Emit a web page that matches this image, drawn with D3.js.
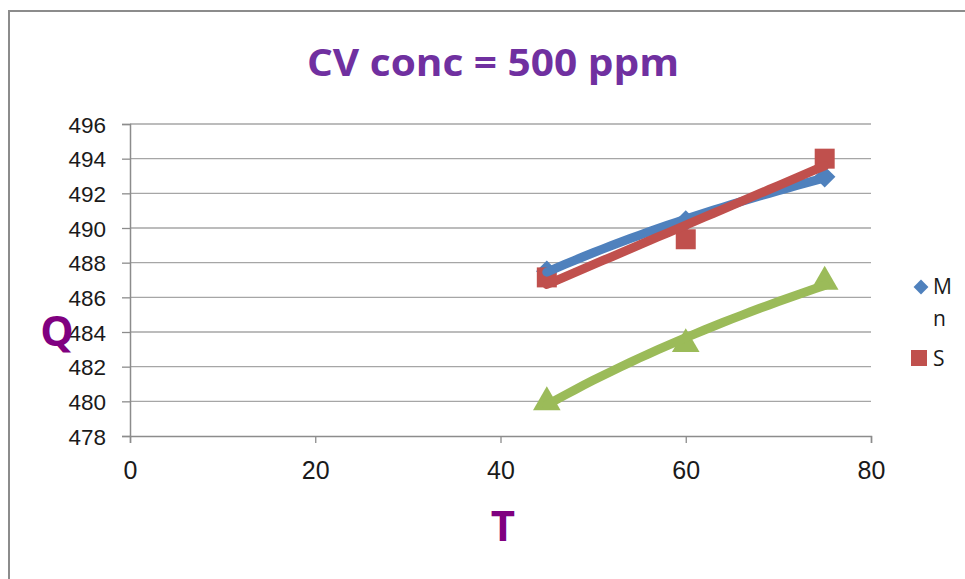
<!DOCTYPE html>
<html>
<head>
<meta charset="utf-8">
<script src="https://cdn.jsdelivr.net/npm/d3@7"></script>
<style>
  body { margin: 0; background: #fff; }
  svg { display: block; }
</style>
</head>
<body>
<svg width="965" height="579"></svg>
<script>
// data
var temps = [45, 60, 75];
var qMn = [487.5, 490.4, 492.95];
var qS = [487.15, 489.35, 494.0];
var qThird = [479.95, 483.3, 486.9];
var xTicks = [0, 20, 40, 60, 80];
var yTicks = [478, 480, 482, 484, 486, 488, 490, 492, 494, 496];

var svg = d3.select("svg"),
    margin = {top: 124, right: 94, bottom: 143, left: 130},
    width = 965 - margin.left - margin.right,
    height = 579 - margin.top - margin.bottom,
    g = svg.append("g").attr("transform", "translate(" + margin.left + "," + margin.top + ")");

var x = d3.scaleLinear().domain([0, 80]).range([0, width]),
    y = d3.scaleLinear().domain([478, 496]).range([height, 0]);

// chart frame
svg.append("path")
    .attr("d", "M9,579V11H965")
    .attr("fill", "none")
    .attr("stroke", "#8c8c8c")
    .attr("stroke-width", 2);

// title
svg.append("text")
    .attr("x", 493).attr("y", 76)
    .attr("text-anchor", "middle")
    .attr("fill", "#7030a0")
    .style("font", "bold 38px 'Liberation Sans Narrow', 'Open Sans', sans-serif")
    .attr("textLength", 372)
    .attr("lengthAdjust", "spacingAndGlyphs")
    .text("CV conc = 500 ppm");

// gridlines
g.selectAll(".grid")
  .data(yTicks.slice(1))
  .enter().append("line")
    .attr("class", "grid")
    .attr("x1", 0).attr("x2", width)
    .attr("y1", function(d) { return y(d); })
    .attr("y2", function(d) { return y(d); })
    .attr("stroke", "#a6a6a6")
    .attr("stroke-width", 1.3);

var xAxis = g.append("g")
    .attr("transform", "translate(0," + height + ")")
    .call(d3.axisBottom(x).tickValues(xTicks).tickSize(7).tickPadding(18));

var yAxis = g.append("g")
    .call(d3.axisLeft(y).tickValues(yTicks).tickSize(8).tickPadding(16));

[xAxis, yAxis].forEach(function(a) {
    a.select(".domain").attr("stroke", "#8c8c8c").attr("stroke-width", 1.5);
    a.selectAll(".tick line").attr("stroke", "#8c8c8c").attr("stroke-width", 1.3);
    a.selectAll(".tick text")
        .attr("fill", "#1a1a1a")
        .style("font-family", "'Liberation Sans', Arial, sans-serif");
});
xAxis.selectAll(".tick text").style("font-size", "25px");
yAxis.selectAll(".tick text").style("font-size", "22.5px").attr("dy", "0.36em");

// axis titles
svg.append("text")
    .attr("x", 57).attr("y", 346)
    .attr("text-anchor", "middle")
    .attr("fill", "#800080")
    .style("font", "bold 42px 'Open Sans', sans-serif")
    .text("Q");
svg.append("text")
    .attr("x", 503).attr("y", 541)
    .attr("text-anchor", "middle")
    .attr("fill", "#800080")
    .style("font", "bold 42px 'Open Sans', sans-serif")
    .text("T");

var series = [
    {id: "Mn", values: qMn, color: "#4f81bd", shape: d3.symbolSquare, size: 230, rot: 45, fit: "log"},
    {id: "S", values: qS, color: "#c0504d", shape: d3.symbolSquare, size: 400, rot: 0, fit: "linear"},
    {id: "", values: qThird, color: "#9bbb59", shape: d3.symbolTriangle, size: 330, rot: 0, fit: "log"}
];

// least squares trendline (linear or logarithmic)
function trend(s) {
    var xs = temps.map(function(t) { return s.fit == "log" ? Math.log(t) : t; });
    var mx = d3.mean(xs), my = d3.mean(s.values);
    var sxy = d3.sum(xs, function(v, i) { return (v - mx) * (s.values[i] - my); });
    var sxx = d3.sum(xs, function(v) { return (v - mx) * (v - mx); });
    var b = sxy / sxx, a = my - b * mx;
    return d3.range(45, 75.01, 1).map(function(t) {
        return {t: t, q: a + b * (s.fit == "log" ? Math.log(t) : t)};
    });
}

var line = d3.line()
    .x(function(d) { return x(d.t); })
    .y(function(d) { return y(d.q); });

// markers
series.forEach(function(s, k) {
    g.selectAll(".m" + k)
      .data(s.values)
      .enter().append("path")
        .attr("class", "m" + k)
        .attr("transform", function(d, i) {
            return "translate(" + x(temps[i]) + "," + y(d) + ") rotate(" + s.rot + ")";
        })
        .attr("d", d3.symbol().type(s.shape).size(s.size))
        .attr("fill", s.color);
});

// trendlines
series.forEach(function(s) {
    g.append("path")
        .attr("d", line(trend(s)))
        .attr("fill", "none")
        .attr("stroke", s.color)
        .attr("stroke-width", 9)
        .attr("stroke-linecap", "round");
});

// legend
var legend = svg.append("g");
legend.append("path")
    .attr("transform", "translate(921,287) rotate(45)")
    .attr("d", d3.symbol().type(d3.symbolSquare).size(110))
    .attr("fill", "#4f81bd");
legend.append("text").attr("x", 933).attr("y", 294).text("M");
legend.append("text").attr("x", 933).attr("y", 326).text("n");
legend.append("rect")
    .attr("x", 911).attr("y", 350).attr("width", 16).attr("height", 16)
    .attr("fill", "#c0504d");
legend.append("text").attr("x", 933).attr("y", 366).text("S");
legend.selectAll("text")
    .attr("fill", "#1a1a1a")
    .style("font", "21px 'Open Sans', sans-serif");
</script>
</body>
</html>
